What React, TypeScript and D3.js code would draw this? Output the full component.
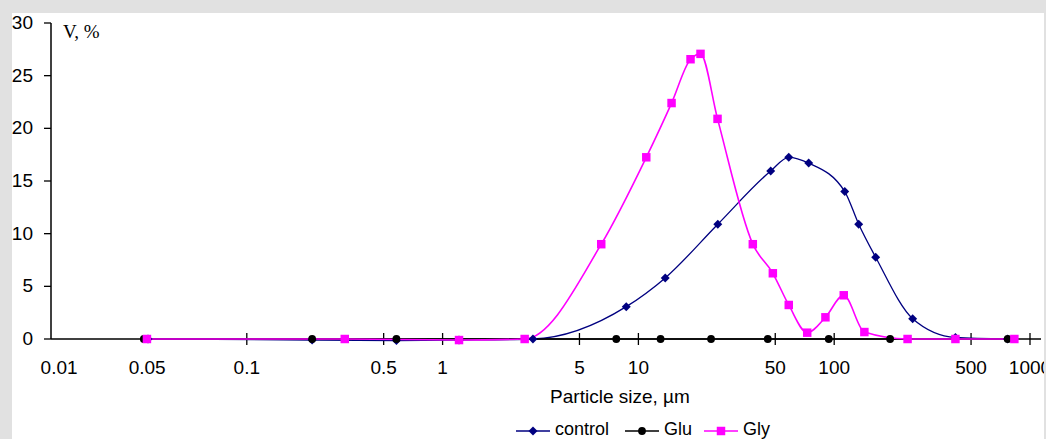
import React from "react";
import * as d3 from "d3";

// ---- data (particle size in µm, volume %) ----
const controlSize = [0.0313, 0.2156, 0.581, 1.213, 2.894, 8.67, 13.71, 25.44, 47.4, 58.6, 74.1, 113.2, 133.4, 162.9, 251.6, 416, 769];
const controlV = [0, -0.1, -0.15, -0.1, 0, 3.07, 5.8, 10.9, 15.95, 17.25, 16.7, 14.0, 10.9, 7.76, 1.93, 0.15, 0];

const gluSize = [0.0298, 0.2156, 0.581, 7.71, 12.98, 23.5, 45.8, 93.8, 193, 769];
const gluV = [0, 0, 0, 0, 0, 0, 0, 0, 0, 0];

const glySize = [0.0309, 0.3165, 1.213, 2.625, 6.46, 10.97, 14.77, 18.46, 20.76, 25.36, 38.4, 48.6, 58.6, 72.8, 90.2, 111.9, 142.6, 237, 416, 832];
const glyV = [0, 0, -0.1, 0, 9.0, 17.25, 22.4, 26.56, 27.07, 20.9, 9.0, 6.24, 3.23, 0.6, 2.06, 4.15, 0.66, 0, 0, 0];

const xTickValues = [0.1, 0.5, 1, 5, 10, 50, 100, 500, 1000];
const xLabelAt = [0.011, 0.031, 0.1, 0.5, 1, 5, 10, 50, 100, 500, 1000];
const xLabels = ["0.01", "0.05", "0.1", "0.5", "1", "5", "10", "50", "100", "500", "1000"];
const yTicks = [0, 5, 10, 15, 20, 25, 30];

const seriesNames = ["control", "Glu", "Gly"];
const seriesColors = ["#000080", "#000000", "#ff00ff"];

const W = 1046;
const H = 439;
const FONT = "'Liberation Sans', Arial, sans-serif";

export default function App() {
  const x = d3.scaleLog().domain([0.01, 1000]).range([51, 1030]);
  const y = d3.scaleLinear().domain([0, 30]).range([339, 23]);

  const line = d3
    .line<[number, number]>()
    .x((d) => x(d[0]))
    .y((d) => y(d[1]))
    .curve(d3.curveMonotoneX);

  const series = [
    { sizes: controlSize, vals: controlV },
    { sizes: gluSize, vals: gluV },
    { sizes: glySize, vals: glyV },
  ];

  const diamond = d3.symbol().type(d3.symbolSquare).size(40)();
  const circle = d3.symbol().type(d3.symbolCircle).size(48)();
  const square = d3.symbol().type(d3.symbolSquare).size(72)();

  const marker = (i: number, cx: number, cy: number, key: any) => {
    const c = seriesColors[i];
    if (i === 0)
      return <path key={key} d={diamond as string} transform={`translate(${cx},${cy}) rotate(45)`} fill={c} />;
    if (i === 1) return <path key={key} d={circle as string} transform={`translate(${cx},${cy})`} fill={c} />;
    return <path key={key} d={square as string} transform={`translate(${cx},${cy})`} fill={c} />;
  };

  const legendX = [516, 625, 704];

  return (
    <svg
      width={W}
      height={H}
      style={{ position: "absolute", left: 0, top: 0, background: "#ffffff" }}
    >
      {/* y axis */}
      <line x1={51} x2={51} y1={y(30)} y2={y(0)} stroke="#000" strokeWidth={1.5} />
      {yTicks.map((t) => (
        <g key={t}>
          <line x1={44} x2={51} y1={y(t)} y2={y(t)} stroke="#000" strokeWidth={1.3} />
          <text x={33} y={y(t) + 6} textAnchor="end" fontFamily={FONT} fontSize={19} fill="#000">
            {t}
          </text>
        </g>
      ))}
      <text x={63} y={38} fontFamily="'Liberation Serif', 'Times New Roman', serif" fontSize={19} fill="#000">
        V, %
      </text>

      {/* x axis */}
      <line x1={51} x2={1041} y1={y(0)} y2={y(0)} stroke="#000" strokeWidth={1.3} />
      {xTickValues.map((t) => (
        <line key={t} x1={x(t)} x2={x(t)} y1={y(0) - 6} y2={y(0) + 6} stroke="#000" strokeWidth={1.3} />
      ))}
      {xLabels.map((l, i) => (
        <text key={l} x={x(xLabelAt[i])} y={374} textAnchor="middle" fontFamily={FONT} fontSize={19} fill="#000">
          {l}
        </text>
      ))}
      <text x={620} y={403} textAnchor="middle" fontFamily={FONT} fontSize={19} fill="#000">
        Particle size, µm
      </text>

      {/* series lines */}
      {series.map((s, i) => (
        <path
          key={"l" + i}
          d={line(s.sizes.map((v, j) => [v, s.vals[j]] as [number, number])) as string}
          fill="none"
          stroke={seriesColors[i]}
          strokeWidth={i === 2 ? 1.6 : 1.3}
        />
      ))}
      {/* markers */}
      {series.map((s, i) => (
        <g key={"m" + i}>{s.sizes.map((v, j) => marker(i, x(v), y(s.vals[j]), j))}</g>
      ))}

      {/* legend */}
      {seriesNames.map((n, i) => (
        <g key={n}>
          <line x1={legendX[i]} x2={legendX[i] + 34} y1={431} y2={431} stroke={seriesColors[i]} strokeWidth={1.5} />
          {marker(i, legendX[i] + 17, 431, "lm")}
          <text x={legendX[i] + 39} y={435} fontFamily={FONT} fontSize={18} fill="#000">
            {n}
          </text>
        </g>
      ))}

      {/* gray frame */}
      <rect x={0} y={0} width={W} height={13} fill="#e1e1e1" />
      <rect x={0} y={0} width={12} height={H} fill="#e1e1e1" />
      <rect x={1044} y={0} width={2} height={H} fill="#e1e1e1" />
    </svg>
  );
}
